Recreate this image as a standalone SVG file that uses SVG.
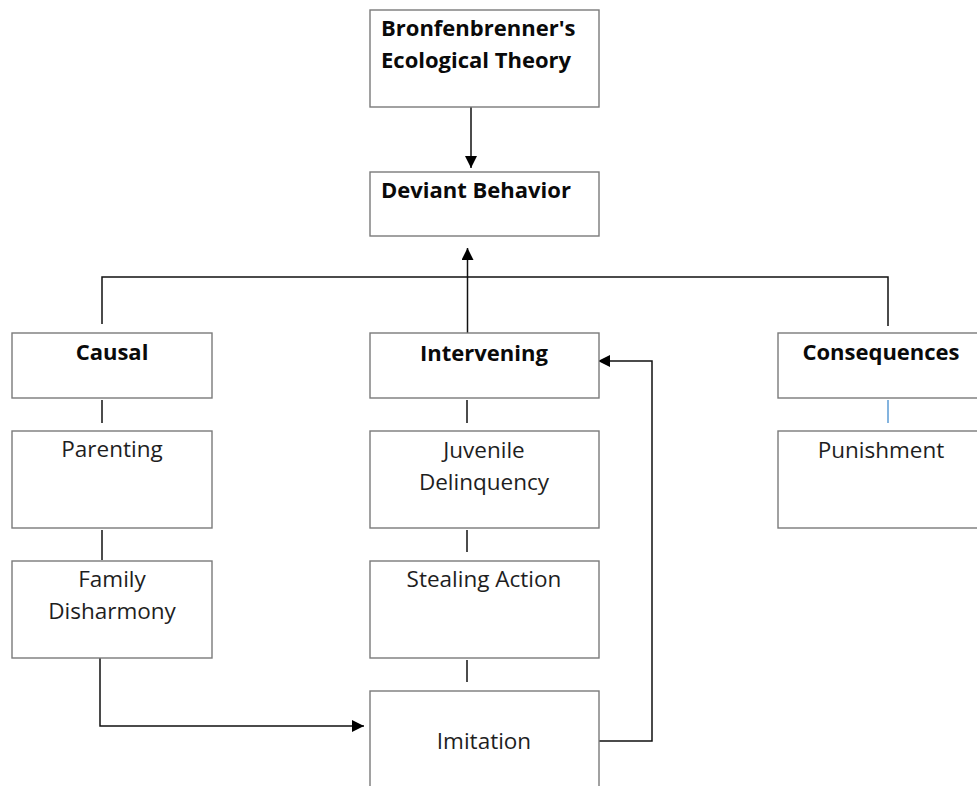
<svg xmlns="http://www.w3.org/2000/svg" width="977" height="786" viewBox="0 0 977 786">
<style>
.box{fill:#fff;stroke:#7a7a7a;stroke-width:1.4}
.t{font-family:"Open Sans","Noto Sans","DejaVu Sans",sans-serif;font-size:22.5px;fill:#1e1e1e}
.b{font-weight:bold;font-size:22px;fill:#0a0a0a}
.c{text-anchor:middle}
.ln{fill:none;stroke:#111;stroke-width:1.5}
</style>
<defs>
<marker id="ahl" viewBox="0 0 10 10" refX="10" refY="5" markerWidth="12" markerHeight="12" markerUnits="userSpaceOnUse" orient="auto">
<path d="M0,0 L10,5 L0,10 z" fill="#000"/>
</marker>
</defs>
<g id="connectors">
<line class="ln" x1="471" y1="107" x2="471" y2="168" marker-end="url(#ahl)"/>
<polyline class="ln" points="102,324 102,277 888,277 888,326"/>
<line class="ln" x1="467.5" y1="334" x2="467.5" y2="248" marker-end="url(#ahl)"/>
<line class="ln" x1="102" y1="400" x2="102" y2="423"/>
<line class="ln" x1="102" y1="530" x2="102" y2="560"/>
<line class="ln" x1="467" y1="400" x2="467" y2="423"/>
<line class="ln" x1="467" y1="530" x2="467" y2="552"/>
<line class="ln" x1="467" y1="660" x2="467" y2="682"/>
<line x1="888" y1="400" x2="888" y2="423" stroke="#5b9bd5" stroke-width="1.5"/>
<polyline class="ln" points="100,658 100,726 364,726" marker-end="url(#ahl)"/>
<polyline class="ln" points="599,741 652,741 652,361 598,361" marker-end="url(#ahl)"/>
</g>
<g id="n-theory">
<rect class="box" x="370" y="10" width="229" height="97"/>
<text class="t b" x="381" y="36">Bronfenbrenner's</text>
<text class="t b" x="381" y="68">Ecological Theory</text>
</g>
<g id="n-deviant">
<rect class="box" x="370" y="172" width="229" height="64"/>
<text class="t b" x="381" y="198">Deviant Behavior</text>
</g>
<g id="n-causal">
<rect class="box" x="12" y="333" width="200" height="65"/>
<text class="t b c" x="112" y="360">Causal</text>
</g>
<g id="n-intervening">
<rect class="box" x="370" y="333" width="229" height="65"/>
<text class="t b c" x="484" y="361">Intervening</text>
</g>
<g id="n-consequences">
<rect class="box" x="778" y="333" width="210" height="65"/>
<text class="t b c" x="881" y="360">Consequences</text>
</g>
<g id="n-parenting">
<rect class="box" x="12" y="431" width="200" height="97"/>
<text class="t c" x="112" y="457">Parenting</text>
</g>
<g id="n-family">
<rect class="box" x="12" y="561" width="200" height="97"/>
<text class="t c" x="112" y="587">Family</text>
<text class="t c" x="112" y="619">Disharmony</text>
</g>
<g id="n-juvenile">
<rect class="box" x="370" y="431" width="229" height="97"/>
<text class="t c" x="484" y="458">Juvenile</text>
<text class="t c" x="484" y="490">Delinquency</text>
</g>
<g id="n-stealing">
<rect class="box" x="370" y="561" width="229" height="97"/>
<text class="t c" x="484" y="587">Stealing Action</text>
</g>
<g id="n-imitation">
<rect class="box" x="370" y="691" width="229" height="110"/>
<text class="t c" x="484" y="749">Imitation</text>
</g>
<g id="n-punishment">
<rect class="box" x="778" y="431" width="210" height="97"/>
<text class="t c" x="881" y="458">Punishment</text>
</g>
</svg>
